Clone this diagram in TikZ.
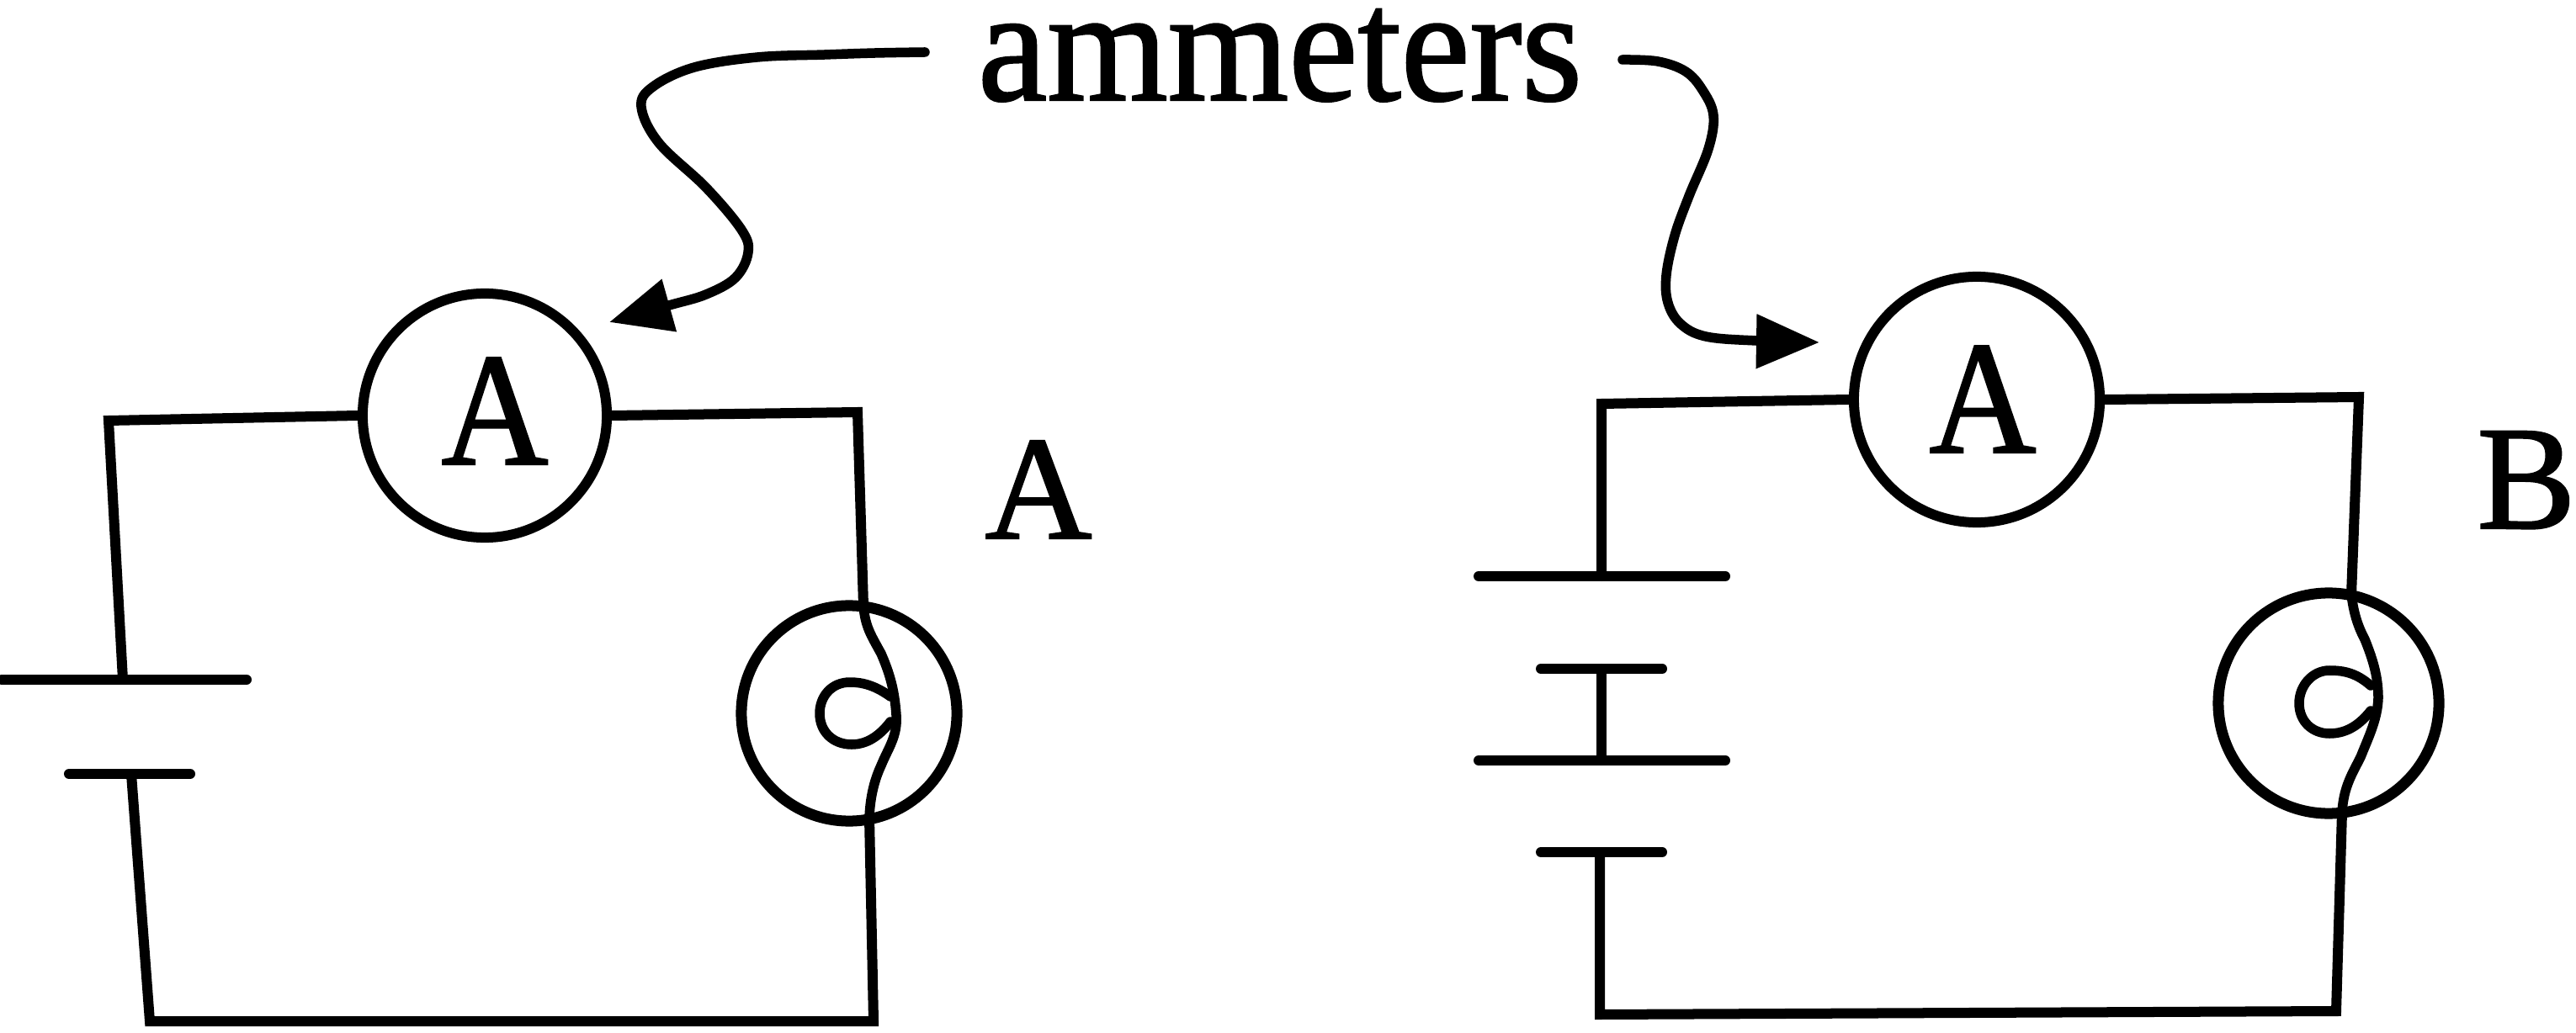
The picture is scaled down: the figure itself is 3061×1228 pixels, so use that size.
\documentclass[tikz,border=0pt]{standalone}
\usepackage{graphicx}
\usepackage{fontspec}
\setmainfont[FakeBold=1.3]{Liberation Serif}
\usetikzlibrary{arrows.meta}
\tikzset{
  wire/.style={line width=0.12cm,line join=miter,line cap=round},
  lead/.style={line width=0.115cm,line cap=round,line join=round},
  meter/.style={circle,draw,line width=0.12cm,inner sep=0pt},
  lampbody/.style={circle,draw,line width=0.13cm,inner sep=0pt,minimum size=2.56cm},
  big/.style={anchor=base,inner sep=0pt,font=\fontsize{52.5}{60}\selectfont},
  capletter/.style={anchor=base,inner sep=0pt,font=\fontsize{50}{60}\selectfont},
}
\begin{document}
\begin{tikzpicture}[x=0.01cm,y=-0.01cm]
\useasboundingbox (0,0) rectangle (3061,1228);
% labels
\node[big] (title) at (1521,119) {\scalebox{1}[1.04]{ammeters}};
\node[capletter] (labA) at (1234,640) {\scalebox{1}[1.0]{A}};
\node[capletter] (labB) at (3002,628) {\scalebox{1}[1.0]{B}};
% ammeters
\node[meter,minimum size=2.90cm] (mA) at (576,494) {};
\node[meter,minimum size=2.92cm] (mB) at (2349,475) {};
\node[capletter] (tA) at (588,552) {\scalebox{1}[1.09]{A}};
\node[capletter] (tB) at (2356,538) {\scalebox{1}[1.09]{A}};
% lamps
\node[lampbody] (lA) at (1009,848) {};
\node[lampbody,minimum size=2.62cm] (lB) at (2767,836) {};
% circuit A corners
\coordinate (a1) at (129,500);
\coordinate (a2) at (1019,490);
\coordinate (a3) at (1038,1214);
\coordinate (a4) at (178,1214);
\coordinate (afT) at (1026,720);
\coordinate (afB) at (1033,972);
\coordinate (pa1l) at (2,808);
\coordinate (pa1r) at (293,808);
\coordinate (pa1m) at (146,808);
\coordinate (pa2l) at (82,920);
\coordinate (pa2r) at (226,920);
\coordinate (pa2m) at (156,920);
\draw[wire] (pa1m) -- (a1) -- (mA.west);
\draw[wire] (mA.east) -- (a2) -- (afT);
\draw[wire] (afB) -- (a3) -- (a4) -- (pa2m);
\draw[wire] (pa1l) -- (pa1r);
\draw[wire] (pa2l) -- (pa2r);
% filament A
\draw[lead] (afT) .. controls (1028,745) and (1035,755) .. (1047,777) .. controls (1057,800) and (1063,820) .. (1065,850) .. controls (1067,875) and (1055,890) .. (1047,910) .. controls (1040,925) and (1034,945) .. (afB);
\draw[lead] (1058,828) .. controls (1040,815) and (1025,811) .. (1010,811) .. controls (988,811) and (974,828) .. (974,848) .. controls (974,870) and (990,885) .. (1012,885) .. controls (1030,885) and (1045,875) .. (1058,858);
% circuit B corners
\coordinate (b1) at (1903,480);
\coordinate (b2) at (2803,472);
\coordinate (b3) at (2776,1202);
\coordinate (b4) at (1901,1206);
\coordinate (bfT) at (2794,707);
\coordinate (bfB) at (2783,965);
\coordinate (pb1l) at (1757,685);
\coordinate (pb1r) at (2050,685);
\coordinate (pb1m) at (1903,685);
\coordinate (pb2l) at (1831,795);
\coordinate (pb2r) at (1975,795);
\coordinate (pb2m) at (1903,795);
\coordinate (pb3l) at (1757,904);
\coordinate (pb3r) at (2050,904);
\coordinate (pb3m) at (1903,904);
\coordinate (pb4l) at (1831,1013);
\coordinate (pb4r) at (1975,1013);
\coordinate (pb4m) at (1901,1013);
\draw[wire] (pb1m) -- (b1) -- (mB.west);
\draw[wire] (mB.east) -- (b2) -- (bfT);
\draw[wire] (bfB) -- (b3) -- (b4) -- (pb4m);
\draw[wire] (pb2m) -- (pb3m);
\draw[wire] (pb1l) -- (pb1r);
\draw[wire] (pb2l) -- (pb2r);
\draw[wire] (pb3l) -- (pb3r);
\draw[wire] (pb4l) -- (pb4r);
% filament B
\draw[lead] (bfT) .. controls (2797,730) and (2802,745) .. (2810,760) .. controls (2820,785) and (2826,805) .. (2826,830) .. controls (2825,855) and (2815,875) .. (2805,900) .. controls (2795,920) and (2785,935) .. (bfB);
\draw[lead] (2817,815) .. controls (2800,800) and (2785,797) .. (2768,797) .. controls (2748,797) and (2732,815) .. (2732,836) .. controls (2732,858) and (2748,872) .. (2768,872) .. controls (2790,872) and (2805,860) .. (2817,845);
% callout arrows
\coordinate (c1) at (1099,62);
\coordinate (c2) at (1928,71);
\coordinate (e1) at (724,383);
\coordinate (e2) at (2162,407);
\draw[lead,-{Stealth[length=0.74cm,width=0.62cm,inset=0pt]}] plot[smooth,tension=0.6] coordinates {(c1) (1040,63) (980,65) (900,68) (825,80) (776,103) (762,127) (783,170) (839,223) (881,273) (889,300) (874,330) (839,350) (795,363) (e1)};
\draw[lead,-{Stealth[length=0.75cm,width=0.62cm,inset=0pt]}] plot[smooth,tension=0.6] coordinates {(c2) (1970,73) (2003,85) (2023,107) (2036,137) (2030,177) (2007,233) (1990,280) (1980,327) (1982,360) (1997,385) (2027,400) (2087,405) (e2)};
\end{tikzpicture}
\end{document}
